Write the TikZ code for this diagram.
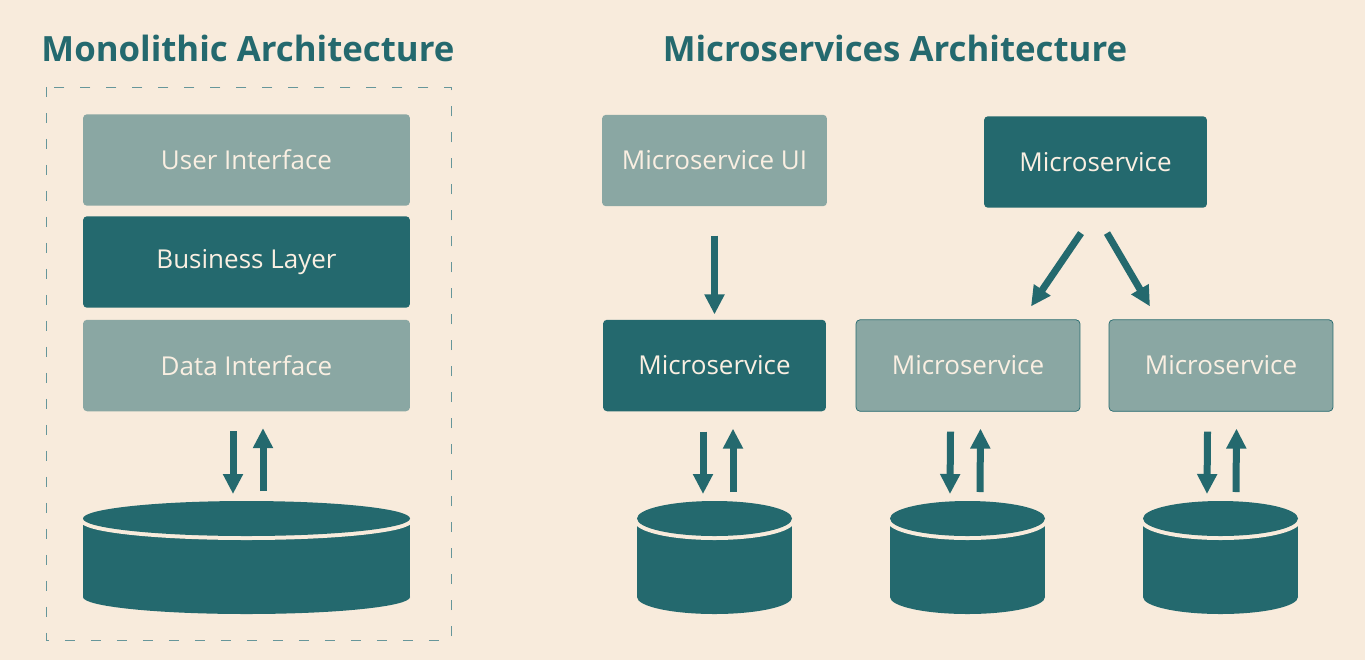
\documentclass[tikz,border=0pt]{standalone}
\usepackage{fontspec}
\setmainfont{Open Sans}
\usetikzlibrary{arrows.meta,calc}

\definecolor{msteal}{RGB}{36,105,110}
\definecolor{paper}{RGB}{248,235,220}
\definecolor{cream}{RGB}{250,239,226}

\begin{document}
\begin{tikzpicture}[x=0.02cm,y=-0.02cm,
    box/.style={rounded corners=0.08cm, inner sep=0pt, minimum height=1.83cm,
      text=cream, font=\fontsize{14.8}{18}\selectfont},
    darkbox/.style={box, fill=msteal},
    lightbox/.style={box, fill=msteal!52!paper},
    title/.style={anchor=base, text=msteal, font=\fontsize{19.8}{24}\selectfont\bfseries},
    flow/.style={draw=msteal, line width=0.14cm, -{Triangle[width=0.38cm,length=0.4cm]}}]
      \def\database#1#2#3{
        \fill[msteal] (#2-#3,518.5) rectangle (#2+#3,597);
        \fill[msteal] (#2,597) ellipse [x radius=#3, y radius=17];
        \draw[paper, line width=0.16cm] (#2,518.5) ellipse [x radius=#3, y radius=17.5];
        \fill[msteal] (#2,518.5) ellipse [x radius=#3, y radius=17.5];
        \coordinate (#1) at (#2,501);
      }
      \fill[paper] (0,0) rectangle (1365,660);
      \useasboundingbox (0,0) rectangle (1365,660);

      % monolithic side
      \node[title] (monotitle) at (248,61) {Monolithic Architecture};
      \draw[msteal!70, line width=0.5pt, dash pattern=on 0.2cm off 0.32cm] (46,87) rectangle (451,640);
      \node[lightbox, minimum width=6.54cm] (ui) at (246.5,160) {User Interface};
      \node[darkbox, minimum width=6.54cm] (biz) at (246.5,262) {Business Layer};
      \node[lightbox, minimum width=6.54cm] (data) at (246.5,365.5) {Data Interface};
      \database{dbm}{246.5}{163.5}
      \draw[flow] ($(data.south)+(-13.5,19.5)$) -- ($(dbm)+(-13.5,-7)$);
      \draw[flow] ($(dbm)+(16.5,-10)$) -- ($(data.south)+(16.5,16.5)$);

      % microservices side
      \node[title] (mstitle) at (895,61) {Microservices Architecture};
      \node[lightbox, minimum width=4.5cm] (msui) at (714.5,160.5) {Microservice UI};
      \node[darkbox, minimum width=4.46cm] (mstop) at (1095.5,162) {Microservice};
      \node[darkbox, minimum width=4.46cm] (msa) at (714.5,365.5) {Microservice};
      \node[lightbox, draw=msteal, minimum width=4.48cm] (msb) at (968,365.5) {Microservice};
      \node[lightbox, draw=msteal, minimum width=4.48cm] (msc) at (1221,365.5) {Microservice};

      \draw[flow] ($(msui.south)+(0,29)$) -- ($(msa.north)+(0,-5)$);
      \draw[flow] ($(mstop.south)+(-14.5,25)$) -- ($(msb.north)+(63,-13)$);
      \draw[flow] ($(mstop.south)+(11.5,25)$) -- ($(msc.north)+(-71,-13)$);

      \database{dba}{714.5}{77.5}
      \database{dbb}{967.5}{77.5}
      \database{dbc}{1220.5}{77.5}

      \draw[flow] ($(msa.south)+(-11.5,20)$) -- ($(dba)+(-11.5,-7)$);
      \draw[flow] ($(dba)+(18.5,-9)$) -- ($(msa.south)+(18.5,17)$);
      \draw[flow] ($(msb.south)+(-17.5,20)$) -- ($(dbb)+(-17.5,-7)$);
      \draw[flow] ($(dbb)+(12.5,-9)$) -- ($(msb.south)+(12.5,17)$);
      \draw[flow] ($(msc.south)+(-13.5,20)$) -- ($(dbc)+(-13.5,-7)$);
      \draw[flow] ($(dbc)+(15.5,-9)$) -- ($(msc.south)+(15.5,17)$);
\end{tikzpicture}
\end{document}
